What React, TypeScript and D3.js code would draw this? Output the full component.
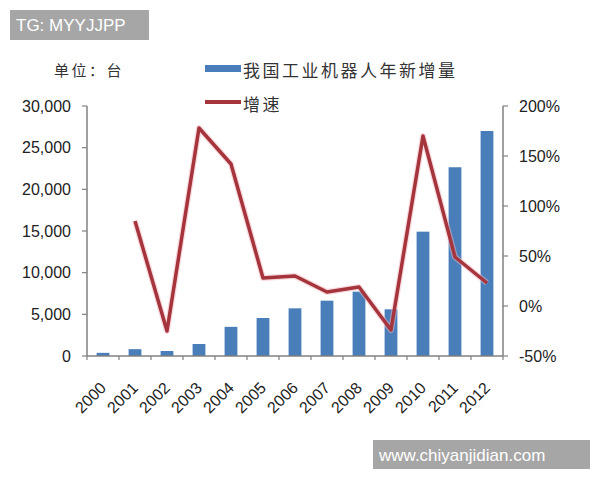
import React from "react";
import * as d3 from "d3";

const years = ["2000","2001","2002","2003","2004","2005","2006","2007","2008","2009","2010","2011","2012"];
const newUnits = [380, 820, 600, 1440, 3500, 4560, 5720, 6640, 7720, 5600, 14920, 22650, 27000];
const growth: (number | null)[] = [null, 0.85, -0.25, 1.78, 1.42, 0.28, 0.30, 0.14, 0.19, -0.24, 1.70, 0.49, 0.23];
const leftTicks = [0, 5000, 10000, 15000, 20000, 25000, 30000];
const rightTicks = [-0.5, 0, 0.5, 1, 1.5, 2];
const barLabel = "我国工业机器人年新增量";
const lineLabel = "增速";
const unitLabel = "单位：台";
const topMark = "TG: MYYJJPP";
const bottomMark = "www.chiyanjidian.com";

export default function App() {
  const W = 600, H = 480;
  const x0 = 87, x1 = 503, yTop = 106, yBot = 356;
  const x = d3.scaleBand<string>().domain(years).range([x0, x1]).paddingInner(0.6).paddingOuter(0.3);
  const yL = d3.scaleLinear().domain([0, 30000]).range([yBot, yTop]);
  const yR = d3.scaleLinear().domain([-0.5, 2]).range([yBot, yTop]);
  const cx = (y: string) => (x(y) as number) + x.bandwidth() / 2;
  const line = d3.line<[string, number | null]>()
    .defined(d => d[1] !== null)
    .x(d => cx(d[0]))
    .y(d => yR(d[1] as number));
  const pts = years.map((y, i) => [y, growth[i]] as [string, number | null]);
  const fmt = d3.format(",");
  const pct = (v: number) => `${Math.round(v * 100)}%`;
  const axisColor = "#808080";
  const labelFont = "'Liberation Sans', Arial, sans-serif";
  const cjk = "'Noto Sans CJK SC', sans-serif";
  const step = x.step();
  const boundaries = d3.range(years.length + 1).map(k => x0 + k * step);

  return (
    <svg width={W} height={H} style={{ position: "absolute", left: 0, top: 0, background: "#fff" }}>
      <rect x={0} y={0} width={W} height={H} fill="#fff" />
      {/* watermark boxes */}
      <rect x={10} y={10} width={139} height={30} fill="#a6a6a6" />
      <text x={16} y={31} fill="#fff" fontFamily={labelFont} fontSize={17}>{topMark}</text>
      <rect x={373} y={440} width={217} height={29} fill="#a6a6a6" />
      <text x={379} y={461} fill="#fff" fontFamily={labelFont} fontSize={17}>{bottomMark}</text>

      {/* unit */}
      <text x={54} y={76} fill="#333" fontFamily={cjk} fontSize={15} letterSpacing={2.5}>{unitLabel}</text>

      {/* legend */}
      <rect x={205} y={65} width={36} height={7} fill="#4a7ebb" />
      <text x={243} y={77} fill="#333" fontFamily={cjk} fontSize={17} letterSpacing={2.5}>{barLabel}</text>
      <line x1={205} x2={241} y1={102} y2={102} stroke="#a5343d" strokeWidth={4} />
      <text x={243} y={111} fill="#333" fontFamily={cjk} fontSize={17} letterSpacing={2.5}>{lineLabel}</text>

      {/* bars */}
      {years.map((y, i) => (
        <rect key={y} x={x(y)} width={x.bandwidth()} y={yL(newUnits[i])} height={yBot - yL(newUnits[i])} fill="#4a7ebb" />
      ))}

      {/* axes */}
      <line x1={x0} x2={x0} y1={yTop} y2={yBot} stroke={axisColor} strokeWidth={1.5} />
      <line x1={x1} x2={x1} y1={yTop} y2={yBot} stroke={axisColor} strokeWidth={1.5} />
      <line x1={x0} x2={x1} y1={yBot} y2={yBot} stroke={axisColor} strokeWidth={1.5} />
      {leftTicks.map(t => (
        <g key={"l" + t}>
          <line x1={x0 - 5} x2={x0} y1={yL(t)} y2={yL(t)} stroke={axisColor} strokeWidth={1.2} />
          <text x={71} y={yL(t)} dy="0.35em" textAnchor="end" fill="#222" fontFamily={labelFont} fontSize={16}>{fmt(t)}</text>
        </g>
      ))}
      {rightTicks.map(t => (
        <g key={"r" + t}>
          <line x1={x1} x2={x1 + 5} y1={yR(t)} y2={yR(t)} stroke={axisColor} strokeWidth={1.2} />
          <text x={519} y={yR(t)} dy="0.35em" textAnchor="start" fill="#222" fontFamily={labelFont} fontSize={16}>{pct(t)}</text>
        </g>
      ))}
      {boundaries.map((b, k) => (
        <line key={"b" + k} x1={b} x2={b} y1={yBot} y2={yBot + 4} stroke={axisColor} strokeWidth={1.2} />
      ))}
      {years.map(y => (
        <text key={"x" + y} transform={`translate(${cx(y)},${yBot + 29}) rotate(-45)`} textAnchor="end" dy="0.35em"
          fill="#222" fontFamily={labelFont} fontSize={16}>{y}</text>
      ))}

      {/* line */}
      <path d={line(pts) || ""} fill="none" stroke="#f2b8bd" strokeWidth={6} strokeLinejoin="round" opacity={0.5} />
      <path d={line(pts) || ""} fill="none" stroke="#a5343d" strokeWidth={3.5} strokeLinejoin="round" />
    </svg>
  );
}
